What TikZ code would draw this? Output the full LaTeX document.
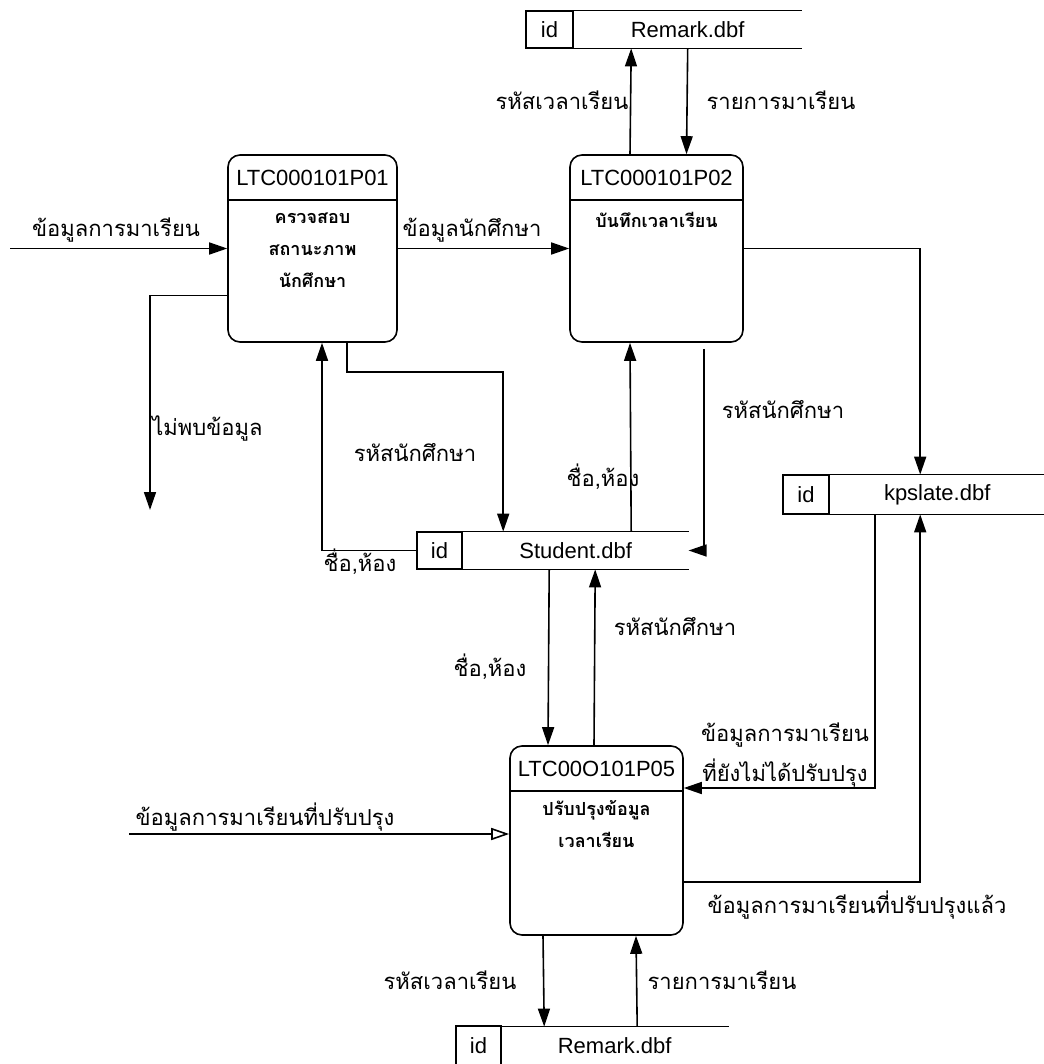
\documentclass[tikz,border=0pt]{standalone}
\usepackage{fontspec}
\setmainfont{Liberation Sans}
\newfontfamily\thaifont[Script=Thai]{Loma}
\usetikzlibrary{arrows.meta,positioning,calc}

\tikzset{
  proc/.style={draw, line width=0.8pt, rounded corners=6pt, inner sep=0pt},
  ptitle/.style={font=\fontsize{11pt}{13pt}\selectfont, inner sep=0pt},
  pbody/.style={font=\thaifont\bfseries\fontsize{9pt}{16pt}\selectfont, align=center, anchor=north, inner sep=0pt},
  idcell/.style={draw, line width=0.8pt, minimum height=18.5pt, inner sep=0pt, font=\fontsize{11pt}{13pt}\selectfont},
  storename/.style={anchor=west, minimum height=18.5pt, inner sep=0pt, font=\fontsize{11pt}{13pt}\selectfont},
  flow/.style={-{Triangle[length=9pt,width=6pt]}, line width=0.8pt},
  openflow/.style={-{Triangle[open,length=9pt,width=6pt]}, line width=0.8pt},
  lbl/.style={font=\thaifont\fontsize{11pt}{20pt}\selectfont, inner sep=1pt}
}

\begin{document}
\begin{tikzpicture}[x=0.5pt,y=-0.5pt]
\useasboundingbox (0,0) rectangle (1043,1064);

% processes
\node[proc, minimum width=84.5pt, minimum height=93.5pt] (p01) at (312.5,248.5) {};
\node[proc, minimum width=86.5pt, minimum height=93.5pt] (p02) at (656.5,248.5) {};
\node[proc, minimum width=86.5pt, minimum height=94.5pt] (p05) at (596.5,840.5) {};
\foreach \p/\t in {p01/LTC000101P01, p02/LTC000101P02, p05/LTC00O101P05} {
  \draw[line width=0.8pt] ($(\p.north west)+(0,46)$) -- ($(\p.north east)+(0,46)$);
  \node[ptitle] (\p t) at ($(\p.north)+(0,24)$) {\t};
}
\node[pbody] (p01b) at ($(p01.north)+(0,58)$) {ครวจสอบ\\สถานะภาพ\\นักศึกษา};
\node[pbody] (p02b) at ($(p02.north)+(0,58)$) {บันทึกเวลาเรียน};
\node[pbody] (p05b) at ($(p05.north)+(0,55)$) {ปรับปรุงข้อมูล\\เวลาเรียน};

% data stores
\node[idcell, minimum width=23.5pt] (rem1id) at (549.5,29.5) {id};
\node[storename, minimum width=113.5pt] (rem1) at (rem1id.east) {Remark.dbf};
\node[idcell, minimum width=22.5pt] (stuid) at (439.5,550.5) {id};
\node[storename, minimum width=112.5pt] (stu) at (stuid.east) {Student.dbf};
\node[idcell, minimum width=23pt, minimum height=19.5pt] (kpsid) at (806,494.5) {id};
\node[storename, minimum width=107pt, minimum height=19.5pt] (kps) at (kpsid.east) {kpslate.dbf};
\node[idcell, draw=none, minimum width=21.5pt] (rem2id) at (478.5,1045.5) {id};
\node[storename, minimum width=113.5pt] (rem2) at (rem2id.east) {Remark.dbf};
\foreach \s in {rem1, stu, kps} {
  \draw[line width=0.8pt] (\s.north west) -- (\s.north east) (\s.south west) -- (\s.south east);
}
\draw[line width=0.8pt] (rem2id.south west) -- (rem2id.north west) -- (rem2id.north east) -- (rem2id.south east);
\draw[line width=0.8pt] (rem2.north west) -- (rem2.north east);

% P01
\coordinate (in01) at (10,248.5);
\draw[flow] (in01) -- (p01.west);
\node[lbl] (lin01) at (116,230) {ข้อมูลการมาเรียน};
\draw[flow] (p01.east) -- (p02.west);
\node[lbl] (l0102) at (472,230) {ข้อมูลนักศึกษา};
\coordinate (nf) at (150,510);
\draw[flow] ($(p01.west)+(0,47)$) -| (nf);
\node[lbl, anchor=west] (lnf) at (150,428) {ไม่พบข้อมูล};
\draw[flow] (stuid.west) -| ($(p01.south)+(9.5,0)$);
\node[lbl] (lstu01) at (360,562) {ชื่อ,ห้อง};
\draw[flow] ($(p01.south)+(34.5,0)$) -- ++(0,29) -| ($(stu.north)+(-72.5,0)$);
\node[lbl] (l01stu) at (415,453) {รหัสนักศึกษา};

% P02
\draw[flow] ($(stu.north)+(55.5,0)$) -- ($(p02.south)+(-26.5,0)$);
\node[lbl] (lstu02) at (603,477) {ชื่อ,ห้อง};
\draw[flow] ($(p02.south)+(47.5,6)$) |- (stu.east);
\node[lbl] (l02stu) at (783,410) {รหัสนักศึกษา};
\draw[flow] ($(p02.north)+(-26.5,0)$) -- ($(rem1.south)+(-56.5,0)$);
\node[lbl] (l02rem) at (562,100) {รหัสเวลาเรียน};
\draw[flow] (rem1.south) -- ($(p02.north)+(30,0)$);
\node[lbl] (lrem02) at (781,100) {รายการมาเรียน};
\draw[flow] (p02.east) -| ($(kps.north)+(-17,0)$);

% P05
\draw[flow] ($(kps.south)+(-62,0)$) |- ($(p05.east)+(0,-52.5)$);
\node[lbl, align=center] (lkps05) at (785,755) {ข้อมูลการมาเรียน\\ที่ยังไม่ได้ปรับปรุง};
\draw[flow] ($(p05.east)+(0,41.5)$) -| ($(kps.south)+(-17,0)$);
\node[lbl] (l05kps) at (857,905) {ข้อมูลการมาเรียนที่ปรับปรุงแล้ว};
\draw[flow] ($(stu.south)+(-26.5,0)$) -- ($(p05.north)+(-48.5,0)$);
\node[lbl] (lstu05) at (490,667) {ชื่อ,ห้อง};
\draw[flow] ($(p05.north)+(-2.5,0)$) -- ($(stu.south)+(19.5,0)$);
\node[lbl] (l05stu) at (675,627) {รหัสนักศึกษา};
\coordinate (in05) at (129,834);
\draw[openflow] (in05) -- (in05 -| p05.west);
\node[lbl] (lin05) at (265,817) {ข้อมูลการมาเรียนที่ปรับปรุง};
\draw[flow] ($(p05.south)+(-53.5,0)$) -- ($(rem2.north)+(-70.5,0)$);
\node[lbl] (l05rem) at (450,980) {รหัสเวลาเรียน};
\draw[flow] ($(rem2.north)+(22.5,0)$) -- ($(p05.south)+(39.5,0)$);
\node[lbl] (lrem05) at (722,980) {รายการมาเรียน};
\end{tikzpicture}
\end{document}
